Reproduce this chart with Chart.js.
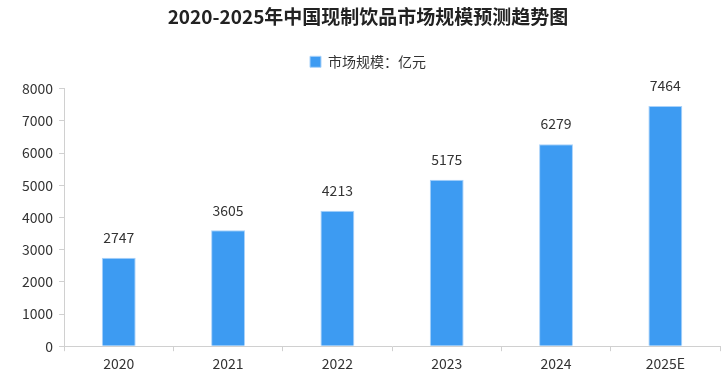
<!DOCTYPE html>
<html>
<head>
<meta charset="utf-8">
<script src="https://cdn.jsdelivr.net/npm/chart.js@4/dist/chart.umd.min.js"></script>
<style>
  html, body { margin: 0; padding: 0; background: #fff; }
  .chart__body { width: 725px; height: 388px; }
</style>
</head>
<body>
<div class="chart__body"><canvas id="myChart"></canvas></div>
<script>
// Данные
const years = ["2020", "2021", "2022", "2023", "2024", "2025E"];
const marketSize = [2747, 3605, 4213, 5175, 6279, 7464];
const yTicks = [0, 1000, 2000, 3000, 4000, 5000, 6000, 7000, 8000];

const fontFamily = "'Noto Sans CJK SC', 'DejaVu Sans', sans-serif";

// подписи над столбцами
const valueLabels = {
  id: "valueLabels",
  afterDatasetsDraw(chart) {
    const ctx = chart.ctx;
    const meta = chart.getDatasetMeta(0);
    ctx.save();
    ctx.font = "14px " + fontFamily;
    ctx.fillStyle = "#333";
    ctx.textAlign = "center";
    ctx.textBaseline = "bottom";
    meta.data.forEach((bar, i) => {
      ctx.fillText(marketSize[i], bar.x, bar.y - 13);
    });
    ctx.restore();
  },
};

// отступ под легендой
const legendMargin = {
  id: "legendMargin",
  beforeInit(chart) {
    const fitValue = chart.legend.fit;
    chart.legend.fit = function fit() {
      fitValue.bind(chart.legend)();
      this.height += 10;
    };
  },
};

const data = {
  labels: years,
  datasets: [
    {
      label: "市场规模：亿元",
      data: marketSize,
      backgroundColor: "#3d9bf2",
      borderColor: "#a9d2fa",
      borderWidth: 1,
      barPercentage: 0.62,
      categoryPercentage: 0.5,
    },
  ],
};

const config = {
  type: "bar",
  data,
  plugins: [valueLabels, legendMargin],
  options: {
    responsive: true,
    maintainAspectRatio: false,
    animation: false,
    layout: { padding: { left: 16, right: 5, top: 1, bottom: 12 } },
    scales: {
      x: {
        grid: {
          display: true,
          drawOnChartArea: false,
          drawTicks: true,
          tickLength: 5,
          color: "#d0d0d0",
          offset: true,
        },
        border: { color: "#d0d0d0", width: 1 },
        ticks: {
          color: "#333",
          font: { family: fontFamily, size: 14 },
          padding: 4,
        },
      },
      y: {
        min: 0,
        max: 8000,
        afterBuildTicks(axis) {
          axis.ticks = yTicks.map((v) => ({ value: v }));
        },
        grid: {
          display: true,
          drawOnChartArea: false,
          drawTicks: true,
          tickLength: 5,
          color: "#d0d0d0",
        },
        border: { color: "#d0d0d0", width: 1 },
        ticks: {
          color: "#333",
          font: { family: fontFamily, size: 14 },
          padding: 6,
          callback: (v) => String(v),
        },
      },
    },
    plugins: {
      title: {
        display: true,
        text: "2020-2025年中国现制饮品市场规模预测趋势图",
        color: "#222",
        font: { family: fontFamily, size: 19, weight: "bold" },
        padding: { top: 4, bottom: 17 },
      },
      legend: {
        display: true,
        position: "top",
        labels: {
          color: "#333",
          font: { family: fontFamily, size: 14 },
          boxWidth: 11,
          boxHeight: 11,
          padding: 10,
        },
      },
      tooltip: { enabled: false },
    },
  },
};

const myChart = new Chart(document.getElementById("myChart"), config);
</script>
</body>
</html>
